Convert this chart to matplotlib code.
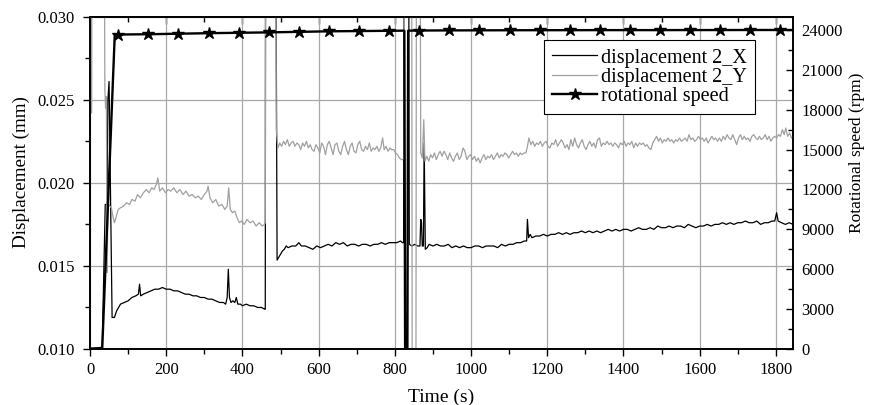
import matplotlib
matplotlib.use("Agg")
import matplotlib.pyplot as plt
from matplotlib.ticker import MultipleLocator, FormatStrFormatter

plt.rcParams['font.family'] = ['Liberation Serif', 'DejaVu Serif']

# ---------------- data ----------------
# displacement 2_X  (time s, displacement mm)
x_time = [0, 32, 40, 45, 47, 50, 58, 64, 70, 80, 90, 100, 110, 120, 127, 130, 133, 140, 150,
          160, 170, 180, 190, 200, 210, 220, 230, 240, 250, 260, 270, 280, 290, 300, 310,
          320, 330, 340, 350, 356, 360, 363, 366, 370, 375, 380, 384, 388, 395, 400, 410,
          420, 430, 440, 450, 458, 460, 461, 487, 491, 495, 500, 505, 510, 515, 520, 530,
          540, 548, 555, 565, 575, 585, 595, 605, 615, 625, 635, 645, 655, 665, 675, 685,
          695, 705, 715, 725, 735, 745, 755, 765, 775, 785, 795, 805, 815, 820, 823, 825,
          836, 838, 845, 852, 860, 866, 868, 870, 872, 875, 877, 880, 885, 890, 900, 910,
          920, 930, 940, 950, 960, 970, 980, 990, 1000, 1010, 1020, 1030, 1040, 1050, 1060,
          1070, 1080, 1090, 1100, 1110, 1120, 1130, 1140, 1146, 1148, 1151, 1155, 1160, 1170,
          1180, 1190, 1200, 1210, 1220, 1230, 1240, 1250, 1260, 1270, 1280, 1290, 1300, 1310,
          1320, 1330, 1340, 1350, 1360, 1370, 1380, 1390, 1400, 1410, 1420, 1430, 1440, 1450,
          1460, 1470, 1480, 1490, 1500, 1510, 1520, 1530, 1540, 1550, 1560, 1570, 1580, 1590,
          1600, 1610, 1620, 1630, 1640, 1650, 1660, 1670, 1680, 1690, 1700, 1710, 1720, 1730,
          1740, 1750, 1760, 1770, 1780, 1790, 1797, 1802, 1806, 1815, 1825, 1835, 1845]
x_disp = [0.01005, 0.0101, 0.0187, 0.0187, 0.0250, 0.0261, 0.0119, 0.0119, 0.0123, 0.0127, 0.0128,
          0.0129, 0.0131, 0.0132, 0.0133, 0.0139, 0.0132, 0.0133, 0.0134,
          0.0135, 0.0136, 0.0136, 0.0137, 0.0136, 0.0136, 0.0135, 0.0135, 0.0134, 0.0133, 0.0133,
          0.0132, 0.0132, 0.0131, 0.0131, 0.0130,
          0.0130, 0.0129, 0.0128, 0.0128, 0.0127, 0.0131, 0.0148, 0.0131, 0.0128, 0.0129, 0.0128,
          0.0131, 0.0127, 0.0127, 0.0126, 0.0127,
          0.0126, 0.0126, 0.0125, 0.0125, 0.0124, 0.0124, 0.0400, 0.0400, 0.01535, 0.0155, 0.0157,
          0.0159, 0.0160, 0.0162, 0.0161, 0.0162,
          0.0162, 0.0164, 0.0162, 0.0162, 0.0161, 0.0160, 0.0162, 0.0161, 0.0162, 0.0163, 0.0162,
          0.0164, 0.0163, 0.0164, 0.0162, 0.0163,
          0.0163, 0.0162, 0.0163, 0.0163, 0.0162, 0.0163, 0.0163, 0.0164, 0.0163, 0.0164, 0.0164,
          0.0164, 0.0165, 0.0164, 0.0164, 0.0400,
          0.0400, 0.0163, 0.0162, 0.0163, 0.0162, 0.0162, 0.0178, 0.0176, 0.0162, 0.0162, 0.0224,
          0.0160, 0.0161, 0.0163, 0.0162, 0.0163,
          0.0162, 0.0162, 0.0163, 0.0161, 0.0162, 0.0161, 0.0162, 0.0161, 0.0161, 0.0162, 0.0162,
          0.0161, 0.0162, 0.0162, 0.0162,
          0.0161, 0.0163, 0.0162, 0.0163, 0.0163, 0.0164, 0.0164, 0.0165, 0.0165, 0.0178, 0.0167,
          0.0169, 0.0167, 0.0168,
          0.0168, 0.0169, 0.0168, 0.0169, 0.0169, 0.0170, 0.0169, 0.0170, 0.0169, 0.0170, 0.0170,
          0.0171, 0.0170, 0.0171,
          0.0170, 0.0171, 0.0170, 0.0171, 0.0172, 0.0171, 0.0172, 0.0171, 0.0172, 0.0172, 0.0171,
          0.0172, 0.0173, 0.0172,
          0.0172, 0.0173, 0.0172, 0.0174, 0.0173, 0.0173, 0.0174, 0.0173, 0.0174, 0.0174, 0.0173,
          0.0175, 0.0174, 0.0173,
          0.0174, 0.0174, 0.0175, 0.0174, 0.0175, 0.0175, 0.0176, 0.0175, 0.0176, 0.0175, 0.0176,
          0.0176, 0.0177, 0.0176,
          0.0176, 0.0177, 0.0175, 0.0176, 0.0176, 0.0177, 0.0177, 0.0182, 0.0177, 0.0176, 0.0175,
          0.0176, 0.0175]

# displacement 2_Y  (time s, displacement mm)
y_time = [0, 3, 4, 6, 37, 39, 41, 43, 45, 47, 52, 56, 60, 64, 68, 74, 80, 88, 96, 104, 110, 118,
          125, 132, 140, 148, 155, 162, 168, 174, 178, 183, 190, 198, 205, 212, 220, 228, 236,
          244, 252, 260, 268, 276, 284, 292, 300, 307, 310, 315, 322, 330, 338, 346, 354, 360,
          364, 368, 374, 380, 386, 392, 398, 405, 412, 420, 428, 436, 444, 452, 458, 460, 461,
          487, 489, 493, 498, 503, 508, 513, 518, 523, 528, 533, 538, 543, 548, 553, 558, 563,
          568, 573, 578, 583, 588, 593, 598, 603, 608, 613, 618, 623, 628, 633, 638, 643, 648,
          653, 658, 663, 668, 673, 678, 683, 688, 693, 698, 703, 708, 713, 718, 723, 728, 733,
          738, 743, 748, 753, 758, 763, 768, 772, 777, 782, 787, 792, 797, 802, 807, 812, 817,
          821, 824, 826, 844, 846, 855, 857, 866, 868, 872, 876, 879, 884, 889, 894, 899, 904,
          909, 914, 919, 924, 929, 934, 939, 944, 949, 954, 959, 964, 969, 974, 979, 984, 989,
          994, 999, 1004, 1009, 1014, 1019, 1024, 1029, 1034, 1039, 1044, 1049, 1054, 1059,
          1064, 1069, 1074, 1079, 1084, 1089, 1094, 1099, 1104, 1109, 1114, 1119, 1124, 1129,
          1134, 1139, 1144, 1148, 1152, 1157, 1162, 1167, 1172, 1177, 1182, 1187, 1192, 1197,
          1202, 1207, 1212, 1217, 1222, 1227, 1232, 1237, 1242, 1247, 1252, 1257, 1262, 1267,
          1272, 1277, 1282, 1287, 1292, 1297, 1302, 1307, 1312, 1317, 1322, 1327, 1332, 1337,
          1342, 1347, 1352, 1357, 1362, 1367, 1372, 1377, 1382, 1387, 1392, 1397, 1402, 1407,
          1412, 1417, 1422, 1427, 1432, 1437, 1442, 1447, 1452, 1457, 1462, 1467, 1472, 1477,
          1482, 1487, 1492, 1497, 1502, 1507, 1512, 1517, 1522, 1527, 1532, 1537, 1542, 1547,
          1552, 1557, 1562, 1567, 1572, 1577, 1582, 1587, 1592, 1597, 1602, 1607, 1612, 1617,
          1622, 1627, 1632, 1637, 1642, 1647, 1652, 1657, 1662, 1667, 1672, 1677, 1682, 1687,
          1692, 1697, 1702, 1707, 1712, 1717, 1722, 1727, 1732, 1737, 1742, 1747, 1752, 1757,
          1762, 1767, 1772, 1777, 1782, 1787, 1792, 1797, 1802, 1807, 1812, 1817, 1822, 1826,
          1831, 1836, 1841, 1845]
y_disp = [0.0400, 0.0400, 0.0242, 0.0400, 0.0400, 0.0256, 0.0245, 0.0252, 0.0146, 0.0188, 0.0186,
          0.0185, 0.0180, 0.0176, 0.0179, 0.0184, 0.0185, 0.0186, 0.0188, 0.0187, 0.0190, 0.0189,
          0.0193, 0.0191, 0.0194, 0.0196, 0.0194, 0.0197, 0.0196, 0.0199, 0.0203, 0.0195, 0.0197,
          0.0194, 0.0196, 0.0195, 0.0197, 0.0194, 0.0196,
          0.0193, 0.0195, 0.0192, 0.0193, 0.0191, 0.0192, 0.0190, 0.0193, 0.0195, 0.0198, 0.0191,
          0.0188, 0.0190, 0.0186, 0.0187, 0.0184, 0.0186,
          0.0197, 0.0184, 0.0182, 0.0183, 0.0179, 0.0176, 0.0177, 0.0175, 0.0178, 0.0176, 0.0177,
          0.0174, 0.0176, 0.0174, 0.0175, 0.0176, 0.0400,
          0.0400, 0.0232, 0.0221, 0.0224, 0.0222, 0.0225, 0.0223, 0.0226, 0.0222, 0.0224, 0.0225,
          0.0222, 0.0224, 0.0223, 0.0220, 0.0224, 0.0222,
          0.0225, 0.0221, 0.0223, 0.0220, 0.0219, 0.0223, 0.0221, 0.0218, 0.0224, 0.0222, 0.0217,
          0.0223, 0.0225, 0.0221, 0.0217, 0.0223, 0.0224,
          0.0219, 0.0217, 0.0222, 0.0225, 0.0220, 0.0217, 0.0222, 0.0224, 0.0219, 0.0218, 0.0223,
          0.0225, 0.0220, 0.0219, 0.0222, 0.0220, 0.0224,
          0.0219, 0.0221, 0.0220, 0.0222, 0.0219, 0.0221, 0.0227, 0.0220, 0.0222, 0.0219, 0.0221,
          0.0220, 0.0220, 0.0218, 0.0217, 0.0215, 0.0214,
          0.0214, 0.0215, 0.0400, 0.0400, 0.0000, 0.0000, 0.0400, 0.0400, 0.0218, 0.0215, 0.0238,
          0.0213, 0.0216, 0.0213, 0.0217, 0.0215, 0.0218,
          0.0214, 0.0217, 0.0219, 0.0216, 0.0219, 0.0217, 0.0214, 0.0218, 0.0215, 0.0213, 0.0216,
          0.0218, 0.0214, 0.0216, 0.0221, 0.0219, 0.0214,
          0.0216, 0.0217, 0.0214, 0.0216, 0.0213, 0.0215, 0.0212, 0.0215, 0.0217, 0.0214, 0.0216,
          0.0215, 0.0217, 0.0214,
          0.0216, 0.0218, 0.0215, 0.0217, 0.0216, 0.0218, 0.0217, 0.0215, 0.0217, 0.0219, 0.0217,
          0.0218, 0.0216, 0.0218,
          0.0217, 0.0218, 0.0218, 0.0222, 0.0227, 0.0223, 0.0225, 0.0222, 0.0224, 0.0223, 0.0225,
          0.0222, 0.0224, 0.0225,
          0.0222, 0.0221, 0.0224, 0.0223, 0.0226, 0.0222, 0.0224, 0.0226, 0.0224, 0.0221, 0.0223,
          0.0220, 0.0226, 0.0222,
          0.0227, 0.0223, 0.0221, 0.0224, 0.0226, 0.0222, 0.0220, 0.0223, 0.0225, 0.0222, 0.0224,
          0.0221, 0.0226, 0.0227,
          0.0222, 0.0224, 0.0223, 0.0225, 0.0223, 0.0224, 0.0222, 0.0224, 0.0223, 0.0221, 0.0224,
          0.0223, 0.0225, 0.0222,
          0.0224, 0.0223, 0.0225, 0.0221, 0.0224, 0.0222, 0.0224, 0.0223, 0.0224, 0.0222, 0.0223,
          0.0221, 0.0220, 0.0224,
          0.0226, 0.0228, 0.0225, 0.0227, 0.0224, 0.0226, 0.0225, 0.0227, 0.0225, 0.0226, 0.0224,
          0.0226, 0.0225, 0.0227,
          0.0225, 0.0226, 0.0227, 0.0225, 0.0229, 0.0226, 0.0227, 0.0225, 0.0226, 0.0228, 0.0226,
          0.0227, 0.0225, 0.0227,
          0.0224, 0.0226, 0.0228, 0.0226, 0.0227, 0.0225, 0.0227, 0.0225, 0.0228, 0.0226, 0.0229,
          0.0227, 0.0226, 0.0229,
          0.0226, 0.0223, 0.0227, 0.0229, 0.0226, 0.0228, 0.0226, 0.0227, 0.0225, 0.0228, 0.0229,
          0.0227, 0.0226, 0.0228,
          0.0226, 0.0227, 0.0229, 0.0226, 0.0228, 0.0225, 0.0227, 0.0228, 0.0227, 0.0229, 0.0228,
          0.0232, 0.0229, 0.0233,
          0.0228, 0.0230, 0.0227, 0.0228]

# rotational speed (time s, rpm)
rpm_time = [0, 32, 65, 74, 153, 232, 311, 390, 469, 548, 627, 706, 785, 825, 827, 833, 835,
            864, 943, 1022, 1101, 1180, 1259, 1338, 1417, 1496, 1575, 1654, 1733, 1812, 1845]
rpm_value = [0, 0, 23650, 23660, 23680, 23720, 23760, 23790, 23820, 23860, 23900, 23920, 23940,
             23950, 0, 0, 23950, 23960, 23970, 23975, 23980, 23985, 23985, 23990, 23990, 23990,
             23995, 23995, 24000, 24000, 24000]
star_times = [74, 153, 232, 311, 390, 469, 548, 627, 706, 785, 864, 943, 1022, 1101, 1180,
              1259, 1338, 1417, 1496, 1575, 1654, 1733, 1812]

legend_labels = ["displacement 2_X", "displacement 2_Y", "rotational speed"]

# ---------------- figure ----------------
fig = plt.figure(figsize=(8.72, 4.05), dpi=100)
ax = fig.add_axes([90 / 872, 1 - 349 / 405, (793 - 90) / 872, (349 - 16.7) / 405])
ax2 = ax.twinx()

grid_c = '#a8a8a8'
ax.set_axisbelow(True)
ax.grid(True, color=grid_c, linewidth=0.9)

lx, = ax.plot(x_time, x_disp, color='black', lw=0.9, zorder=3)
ly, = ax.plot(y_time, y_disp, color='#a0a0a0', lw=0.9, zorder=4)

mark_idx = [rpm_time.index(t) for t in star_times]
lr, = ax2.plot(rpm_time, rpm_value, color='black', lw=1.7, marker='*', markersize=9,
               markevery=mark_idx, zorder=5)

ax.set_xlim(0, 1845)
ax.set_ylim(0.010, 0.030)
ax2.set_ylim(0, 25000)

ax.xaxis.set_major_locator(MultipleLocator(200))
ax.xaxis.set_minor_locator(MultipleLocator(100))
ax.yaxis.set_major_locator(MultipleLocator(0.005))
ax.yaxis.set_minor_locator(MultipleLocator(0.0025))
ax.yaxis.set_major_formatter(FormatStrFormatter('%.3f'))
ax2.yaxis.set_major_locator(MultipleLocator(3000))
ax2.yaxis.set_minor_locator(MultipleLocator(1500))

ax.tick_params(axis='both', which='both', direction='out', labelsize=12, width=1.0,
               right=False, top=False)
ax.tick_params(which='major', length=5)
ax.tick_params(which='minor', length=3.5)
ax.tick_params(axis='y', pad=6)
ax.tick_params(axis='x', pad=4)
ax2.tick_params(axis='y', which='both', direction='in', labelsize=12, width=1.0, pad=6)
ax2.tick_params(which='major', length=5)
ax2.tick_params(which='minor', length=3.5)

# inward ticks on top edge
sec = ax.secondary_xaxis('top')
sec.xaxis.set_major_locator(MultipleLocator(200))
sec.xaxis.set_minor_locator(MultipleLocator(100))
sec.tick_params(which='both', direction='in', labeltop=False, width=1.0)
sec.tick_params(which='major', length=5)
sec.tick_params(which='minor', length=3.5)

for a in (ax, ax2):
    for s in a.spines.values():
        s.set_linewidth(1.2)
        s.set_color('black')
sec.spines['top'].set_linewidth(1.2)

ax.set_xlabel('Time (s)', fontsize=14, labelpad=8)
ax.set_ylabel('Displacement (mm)', fontsize=13.8)
ax.yaxis.set_label_coords(-0.085, 0.533)
ax2.set_ylabel('Rotational speed (rpm)', fontsize=12.5)
ax2.yaxis.set_label_coords(1.079, 0.59)

leg = ax2.legend([lx, ly, lr], legend_labels, loc='upper right',
                 bbox_to_anchor=(0.946, 0.93), borderaxespad=0, fontsize=14.5,
                 fancybox=False, framealpha=1, edgecolor='black', handlelength=2.2,
                 handletextpad=0.2, borderpad=0.42, labelspacing=0.0)
leg.get_frame().set_linewidth(0.8)

fig.savefig('out.png', dpi=100)
